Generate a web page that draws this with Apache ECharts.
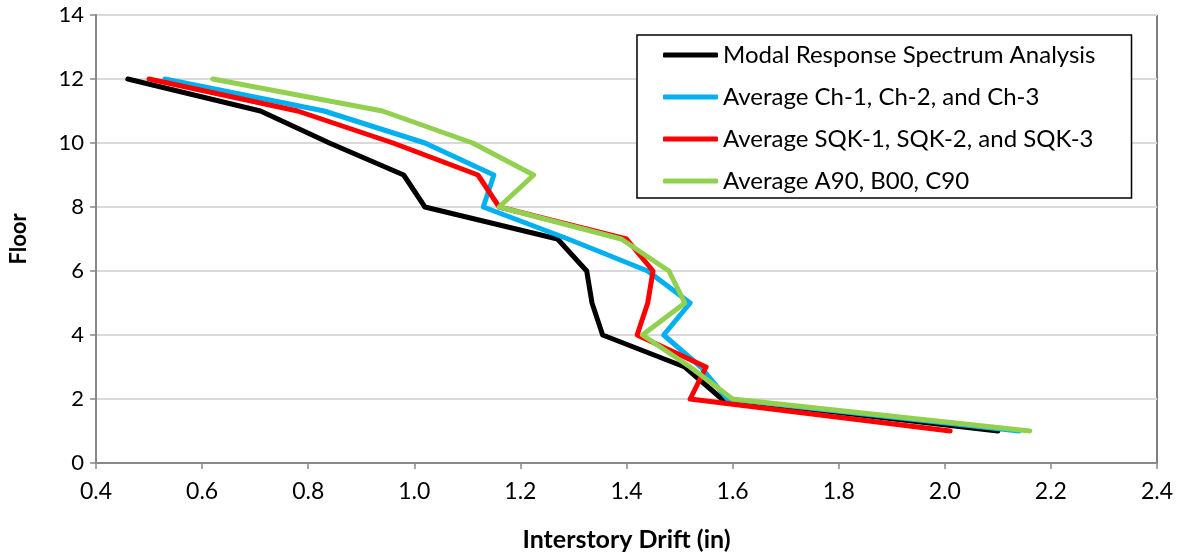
<!DOCTYPE html>
<html>
<head>
<meta charset="utf-8">
<script src="https://cdn.jsdelivr.net/npm/echarts@6/dist/echarts.min.js"></script>
<style>
html,body{margin:0;padding:0;background:#fff;}
#chart{width:1178px;height:557px;}
</style>
</head>
<body>
<div id="chart"></div>
<script>
const floors = [12, 11, 10, 9, 8, 7, 6, 5, 4, 3, 2, 1];
const seriesNames = [
  'Modal Response Spectrum Analysis',
  'Average Ch-1, Ch-2, and Ch-3',
  'Average SQK-1, SQK-2, and SQK-3',
  'Average A90, B00, C90'
];
const modalDrift = [0.46, 0.71, 0.84, 0.98, 1.02, 1.27, 1.325, 1.335, 1.355, 1.51, 1.58, 2.10];
const chDrift    = [0.53, 0.83, 1.02, 1.15, 1.13, 1.29, 1.44, 1.52, 1.47, 1.54, 1.59, 2.14];
const sqkDrift   = [0.50, 0.78, 0.96, 1.12, 1.16, 1.40, 1.45, 1.44, 1.42, 1.55, 1.52, 2.01];
const avgDrift   = [0.62, 0.94, 1.11, 1.225, 1.16, 1.39, 1.48, 1.51, 1.43, 1.52, 1.60, 2.16];
const xTicks = [0.4, 0.6, 0.8, 1.0, 1.2, 1.4, 1.6, 1.8, 2.0, 2.2, 2.4];
const yTicks = [0, 2, 4, 6, 8, 10, 12, 14];
const colors = ['#000000', '#00B0F0', '#FF0000', '#92D050'];

const allDrift = [modalDrift, chDrift, sqkDrift, avgDrift];
const FONT = 'Lato';

const chart = echarts.init(document.getElementById('chart'));
chart.setOption({
  animation: false,
  backgroundColor: '#ffffff',
  textStyle: { fontFamily: FONT },
  grid: {
    left: 95, right: 21, top: 15, bottom: 94,
    show: true, borderColor: '#000000', borderWidth: 1, backgroundColor: 'transparent'
  },
  legend: {
    orient: 'vertical',
    left: 637, top: 35,
    data: seriesNames,
    icon: 'roundRect',
    itemWidth: 55, itemHeight: 5,
    itemGap: 16,
    padding: [7, 36, 4, 26],
    borderColor: '#000000', borderWidth: 1.5,
    backgroundColor: '#ffffff',
    textStyle: { fontFamily: FONT, fontSize: 24, color: '#000', lineHeight: 26 }
  },
  xAxis: {
    type: 'value',
    min: xTicks[0], max: xTicks[xTicks.length - 1], interval: 0.2,
    name: 'Interstory Drift (in)',
    nameLocation: 'middle', nameGap: 64,
    nameTextStyle: { fontFamily: FONT, fontSize: 25, fontWeight: 'bold', color: '#000' },
    axisLine: { show: true, lineStyle: { color: '#898989', width: 2 } },
    axisTick: { show: true, length: 6, lineStyle: { color: '#898989', width: 1.5 } },
    axisLabel: { fontFamily: FONT, fontSize: 23, color: '#000', margin: 17,
      formatter: v => v.toFixed(1) },
    splitLine: { show: false }
  },
  yAxis: {
    type: 'value',
    min: yTicks[0], max: yTicks[yTicks.length - 1], interval: 2,
    name: 'Floor',
    nameLocation: 'middle', nameGap: 66,
    nameTextStyle: { fontFamily: FONT, fontSize: 22, fontWeight: 'bold', color: '#000' },
    axisLine: { show: true, lineStyle: { color: '#898989', width: 2 } },
    axisTick: { show: true, length: 6, lineStyle: { color: '#898989', width: 1.5 } },
    axisLabel: { fontFamily: FONT, fontSize: 22, color: '#000', margin: 12 },
    splitLine: { show: true, lineStyle: { color: '#d9d9d9', width: 2 } }
  },
  series: seriesNames.map((name, i) => ({
    name: name,
    type: 'line',
    data: allDrift[i].map((d, k) => [d, floors[k]]),
    symbol: 'none',
    showSymbol: false,
    color: colors[i],
    lineStyle: { color: colors[i], width: 5, cap: 'round', join: 'round' },
    z: 2 + i
  }))
});
</script>
</body>
</html>
